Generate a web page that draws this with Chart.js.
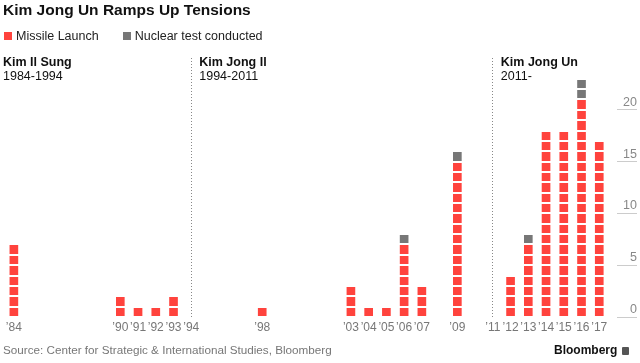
<!DOCTYPE html>
<html>
<head>
<meta charset="utf-8">
<script src="https://cdn.jsdelivr.net/npm/chart.js@4"></script>
<style>
  body { margin: 0; background: #fff; font-family: 'Liberation Sans', Arial, sans-serif; }
  #wrap { position: relative; width: 640px; height: 363px; overflow: hidden; }
  #myChart { position: absolute; left: 0; top: 0; }
  #title { position: absolute; left: 3px; top: 0; line-height: 20px; font-size: 15.5px; font-weight: bold; color: #111; }
  #legend { position: absolute; left: 4px; top: 28px; line-height: 16px; font-size: 12.5px; color: #222; display: flex; }
  #legend span.item { display: flex; align-items: center; margin-right: 24px; }
  #legend i { display: inline-block; width: 8px; height: 8px; margin-right: 4px; }
  #source { position: absolute; left: 3px; top: 342px; line-height: 16px; font-size: 11.7px; color: #777; }
  #brand { position: absolute; left: 554px; top: 342px; line-height: 16px; font-size: 12px; font-weight: bold; color: #111; }
  #brand i { display: inline-block; width: 7px; height: 8px; background: #555; border-radius: 1px; margin-left: 5px; vertical-align: -1px; }
</style>
</head>
<body>
<div id="wrap">
  <canvas id="myChart" width="640" height="363"></canvas>
  <div id="title">Kim Jong Un Ramps Up Tensions</div>
  <div id="legend"></div>
  <div id="source">Source: Center for Strategic &amp; International Studies, Bloomberg</div>
  <div id="brand">Bloomberg<i></i></div>
</div>
<script>
// missile launches per year (one square = one launch)
const years = [1984, 1990, 1991, 1992, 1993, 1998, 2003, 2004, 2005, 2006, 2007, 2009, 2012, 2013, 2014, 2015, 2016, 2017]
const missiles = [7, 2, 1, 1, 2, 1, 3, 1, 1, 7, 3, 15, 4, 7, 18, 18, 21, 17]

// nuclear tests, stacked on top
const nukeYears = [2006, 2009, 2013, 2016]
const nukes = [1, 1, 1, 2]

// labels on the x axis and the count axis
const tickYears = [1984, 1990, 1991, 1992, 1993, 1994, 1998, 2003, 2004, 2005, 2006, 2007, 2009, 2011, 2012, 2013, 2014, 2015, 2016, 2017]
const countTicks = [0, 5, 10, 15, 20]

// leaders
const eraNames = ['Kim Il Sung', 'Kim Jong Il', 'Kim Jong Un']
const eraSpans = ['1984-1994', '1994-2011', '2011-']
const eraStarts = [1984, 1994, 2011]

const red = '#ff433d'
const grey = '#777777'

Chart.defaults.font.family = "'Liberation Sans', Arial, sans-serif"

// html legend
const legendItems = [['Missile Launch', red], ['Nuclear test conducted', grey]]
document.getElementById('legend').innerHTML = legendItems
  .map(l => '<span class="item"><i style="background:' + l[1] + '"></i>' + l[0] + '</span>').join('')

// leader names over each period
const eraLabels = {
  id: 'eraLabels',
  afterDraw(chart) {
    const ctx = chart.ctx
    const x = chart.scales.x
    ctx.save()
    ctx.textBaseline = 'middle'
    ctx.textAlign = 'left'
    eraNames.forEach((name, i) => {
      const px = i === 0 ? 3 : x.getPixelForValue(eraStarts[i]) + 8
      ctx.fillStyle = '#111'
      ctx.font = "bold 12.5px 'Liberation Sans', Arial, sans-serif"
      ctx.fillText(name, px, 62.5)
      ctx.font = "12.5px 'Liberation Sans', Arial, sans-serif"
      ctx.fillText(eraSpans[i], px, 77)
    })
    ctx.restore()
  }
}

const ctx = document.getElementById('myChart').getContext('2d')
const myChart = new Chart(ctx, {
  type: 'bar',
  data: {
    datasets: [{
      label: 'Missile Launch',
      data: years.map((yr, i) => ({ x: yr, y: missiles[i] })),
      backgroundColor: red,
      barThickness: 8
    }, {
      label: 'Nuclear test conducted',
      data: nukeYears.map((yr, i) => ({ x: yr, y: nukes[i] })),
      backgroundColor: grey,
      barThickness: 8
    }]
  },
  options: {
    responsive: false,
    animation: false,
    layout: { padding: { left: 5, right: 3, top: 58, bottom: 26 } },
    plugins: { legend: { display: false }, tooltip: { enabled: false } },
    scales: {
      x: {
        type: 'linear',
        min: 1983.5,
        max: 2018,
        offset: false,
        stacked: true,
        afterFit: s => { s.height = 20 },
        border: { display: false, dash: [1, 2] },
        grid: {
          z: 2,
          offset: false,
          drawTicks: false,
          color: c => (c.tick && (c.tick.value === 1994 || c.tick.value === 2011)) ? '#888' : 'rgba(0,0,0,0)'
        },
        ticks: {
          stepSize: 1,
          includeBounds: false,
          autoSkip: false,
          maxRotation: 0,
          padding: 3,
          color: '#777',
          font: { size: 12 },
          callback: v => tickYears.includes(v) ? '\u2019' + String(v).slice(2) : ''
        }
      },
      // white lines cut the bars into squares
      y: {
        stacked: true,
        min: 0,
        max: 25,
        afterFit: s => { s.width = 0 },
        border: { display: false },
        grid: { z: 1, color: '#fff', lineWidth: 2, drawTicks: false },
        ticks: { stepSize: 1, display: false }
      },
      y2: {
        position: 'right',
        min: 0,
        max: 25,
        afterBuildTicks: s => { s.ticks = countTicks.map(v => ({ value: v })) },
        afterFit: s => { s.width = 20 },
        border: { display: false },
        grid: { drawOnChartArea: false, tickLength: 20, tickColor: '#ccc', tickWidth: 1 },
        ticks: { crossAlign: 'far', padding: -17, labelOffset: -7.5, color: '#888', font: { size: 12.5 } }
      }
    }
  },
  plugins: [eraLabels]
})
</script>
</body>
</html>
